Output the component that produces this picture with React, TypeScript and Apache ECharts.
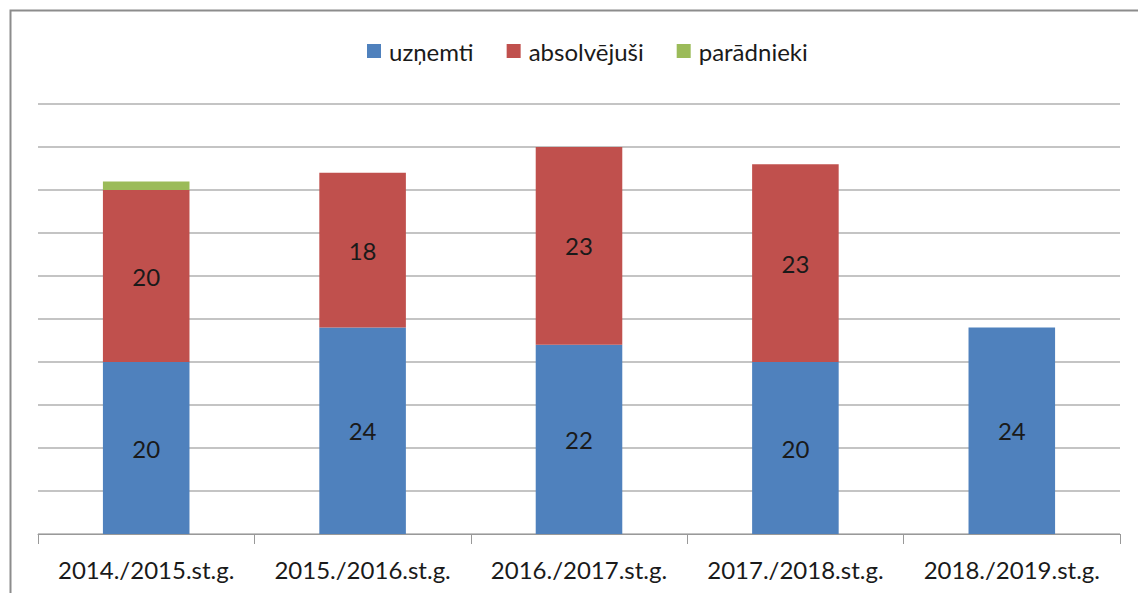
import React, { useEffect, useRef } from "react";
import * as echarts from "echarts";

const categories = ["2014./2015.st.g.", "2015./2016.st.g.", "2016./2017.st.g.", "2017./2018.st.g.", "2018./2019.st.g."];
const uznemti = [20, 24, 22, 20, 24];
const absolvejusi = [20, 18, 23, 23, 0];
const paradnieki = [1, 0, 0, 0, 0];

export default function App() {
  const ref = useRef<HTMLDivElement>(null);
  useEffect(() => {
    const chart = echarts.init(ref.current!, null, { renderer: "svg" });
    const font = "Lato, 'Open Sans', sans-serif";
    const label = {
      show: true,
      position: "inside",
      color: "#1a1a1a",
      fontSize: 24,
      fontFamily: font,
      formatter: (p: any) => (p.value ? String(p.value) : ""),
    };
    chart.setOption({
      animation: false,
      backgroundColor: "#ffffff",
      graphic: [
        {
          type: "rect",
          shape: { x: 10.5, y: 10.5, width: 1140, height: 600 },
          style: { fill: "none", stroke: "#8c8c8c", lineWidth: 2 },
          silent: true,
        },
      ],
      legend: {
        top: 34,
        left: 362,
        itemWidth: 14,
        itemHeight: 14,
        itemGap: 33,
        icon: "rect",
        textStyle: { fontSize: 24, fontFamily: font, color: "#1a1a1a", padding: [0, 0, 0, 3] },
        data: ["uzņemti", "absolvējuši", "parādnieki"],
      },
      grid: { left: 38, right: 18, top: 104, bottom: 59, containLabel: false },
      xAxis: {
        type: "category",
        data: categories,
        axisLine: { lineStyle: { color: "#999999", width: 1 } },
        axisTick: { show: true, interval: 0, length: 10, lineStyle: { color: "#999999" } },
        axisLabel: { interval: 0, margin: 23, fontSize: 24, fontFamily: font, color: "#1a1a1a" },
      },
      yAxis: {
        type: "value",
        min: 0,
        max: 50,
        interval: 5,
        axisLabel: { show: false },
        axisLine: { show: false },
        axisTick: { show: false },
        splitLine: { lineStyle: { color: "#c4c4c4", width: 2 } },
      },
      series: [
        { name: "uzņemti", type: "bar", stack: "s", data: uznemti, barWidth: "40%", itemStyle: { color: "#4F81BD" }, label },
        { name: "absolvējuši", type: "bar", stack: "s", data: absolvejusi, itemStyle: { color: "#C0504D" }, label },
        { name: "parādnieki", type: "bar", stack: "s", data: paradnieki, itemStyle: { color: "#9BBB59" }, label: { show: false } },
      ],
    });
    return () => chart.dispose();
  }, []);
  return <div ref={ref} style={{ position: "absolute", left: 0, top: 0, width: 1138, height: 593 }} />;
}
